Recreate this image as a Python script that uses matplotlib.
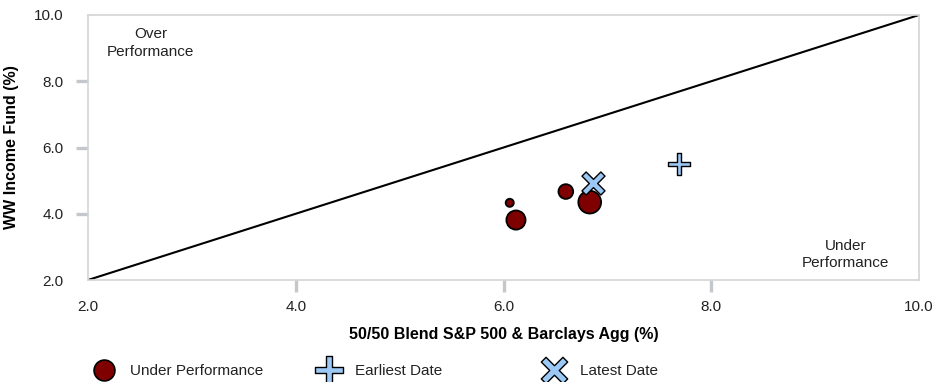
import matplotlib
matplotlib.use("Agg")
import matplotlib.pyplot as plt
import numpy as np
from matplotlib.path import Path
from matplotlib.lines import Line2D

plt.rcParams['font.family'] = ['Liberation Sans', 'DejaVu Sans']

# Benchmark vs fund returns (%)
under_x = [6.06, 6.12, 6.60, 6.83]
under_y = [4.33, 3.81, 4.67, 4.35]
under_size = [34, 190, 112, 268]

earliest_x = [7.69]
earliest_y = [5.50]
latest_x = [6.86]
latest_y = [4.92]

ticks = [2.0, 4.0, 6.0, 8.0, 10.0]
tick_labels = ["2.0", "4.0", "6.0", "8.0", "10.0"]

x_label = "50/50 Blend S&P 500 & Barclays Agg (%)"
y_label = "WW Income Fund (%)"
legend_labels = ["Under Performance", "Earliest Date", "Latest Date"]

RED = "#7f0000"
BLUE = "#9cc8f5"
GRID = "#d4d4d4"
TICK = "#c4c8cc"
TEXT = "#222222"
FS = 11


def plus_path(w=0.11):
    v = [(-w, 0.5), (w, 0.5), (w, w), (0.5, w), (0.5, -w), (w, -w), (w, -0.5),
         (-w, -0.5), (-w, -w), (-0.5, -w), (-0.5, w), (-w, w), (-w, 0.5)]
    return np.array(v)


def cross_path(w=0.11):
    v = plus_path(w)
    a = np.deg2rad(45)
    r = np.array([[np.cos(a), -np.sin(a)], [np.sin(a), np.cos(a)]])
    return v @ r.T


PLUS = Path(plus_path(), closed=True)
CROSS = Path(cross_path(), closed=True)

fig = plt.figure(figsize=(9.32, 3.82), dpi=100)
ax = fig.add_axes([88 / 932, 1 - 280 / 382, (919 - 88) / 932, (280 - 15) / 382])

ax.plot([2, 10], [2, 10], color="black", lw=1.5, zorder=2)

ax.scatter(under_x, under_y, s=under_size, color=RED, edgecolor="black",
           linewidth=1.3, zorder=3)
ax.scatter(earliest_x, earliest_y, marker=PLUS, s=250, color=BLUE,
           edgecolor="black", linewidth=1.0, zorder=4)
ax.scatter(latest_x, latest_y, marker=CROSS, s=275, color=BLUE,
           edgecolor="black", linewidth=1.0, zorder=4)

ax.set_xlim(2, 10)
ax.set_ylim(2, 10)
ax.set_xticks(ticks)
ax.set_xticklabels(tick_labels)
ax.set_yticks(ticks)
ax.set_yticklabels(tick_labels)

for s in ax.spines.values():
    s.set_color(GRID)
    s.set_linewidth(1.2)

ax.tick_params(axis="both", length=8.6, width=2.4, color=TICK, labelsize=FS,
               labelcolor=TEXT)
ax.tick_params(axis="x", pad=6)
ax.tick_params(axis="y", pad=9)
for axis in (ax.xaxis, ax.yaxis):
    mt = axis.get_major_ticks()
    for t in (mt[0], mt[-1]):
        t.tick1line.set_visible(False)

ax.set_xlabel(x_label, fontsize=11.5, fontweight="bold", labelpad=9)
ax.set_ylabel(y_label, fontsize=11.5, fontweight="bold", labelpad=11)

ax.text(2.60, 9.16, "Over\nPerformance", ha="center", va="center",
        fontsize=FS, color=TEXT, linespacing=1.35)
ax.text(9.29, 2.77, "Under\nPerformance", ha="center", va="center",
        fontsize=FS, color=TEXT, linespacing=1.35)

handles = [
    Line2D([], [], ls="none", marker="o", markersize=15, markerfacecolor=RED,
           markeredgecolor="black", markeredgewidth=1.2),
    Line2D([], [], ls="none", marker=PLUS, markersize=19.5, markerfacecolor=BLUE,
           markeredgecolor="black", markeredgewidth=1.0),
    Line2D([], [], ls="none", marker=CROSS, markersize=19, markerfacecolor=BLUE,
           markeredgecolor="black", markeredgewidth=1.0),
]
# legend entries sit on a fixed grid under the plot
handle_centers = [104, 329, 554]
for h, lab, cx in zip(handles, legend_labels, handle_centers):
    fig.legend([h], [lab], loc="center left",
               bbox_to_anchor=((cx - 9) / 932, 1 - 371 / 382),
               frameon=False, fontsize=FS, handlelength=1.2,
               handletextpad=1.1, borderaxespad=0, borderpad=0,
               labelcolor=TEXT)

fig.savefig("out.png", dpi=100)
